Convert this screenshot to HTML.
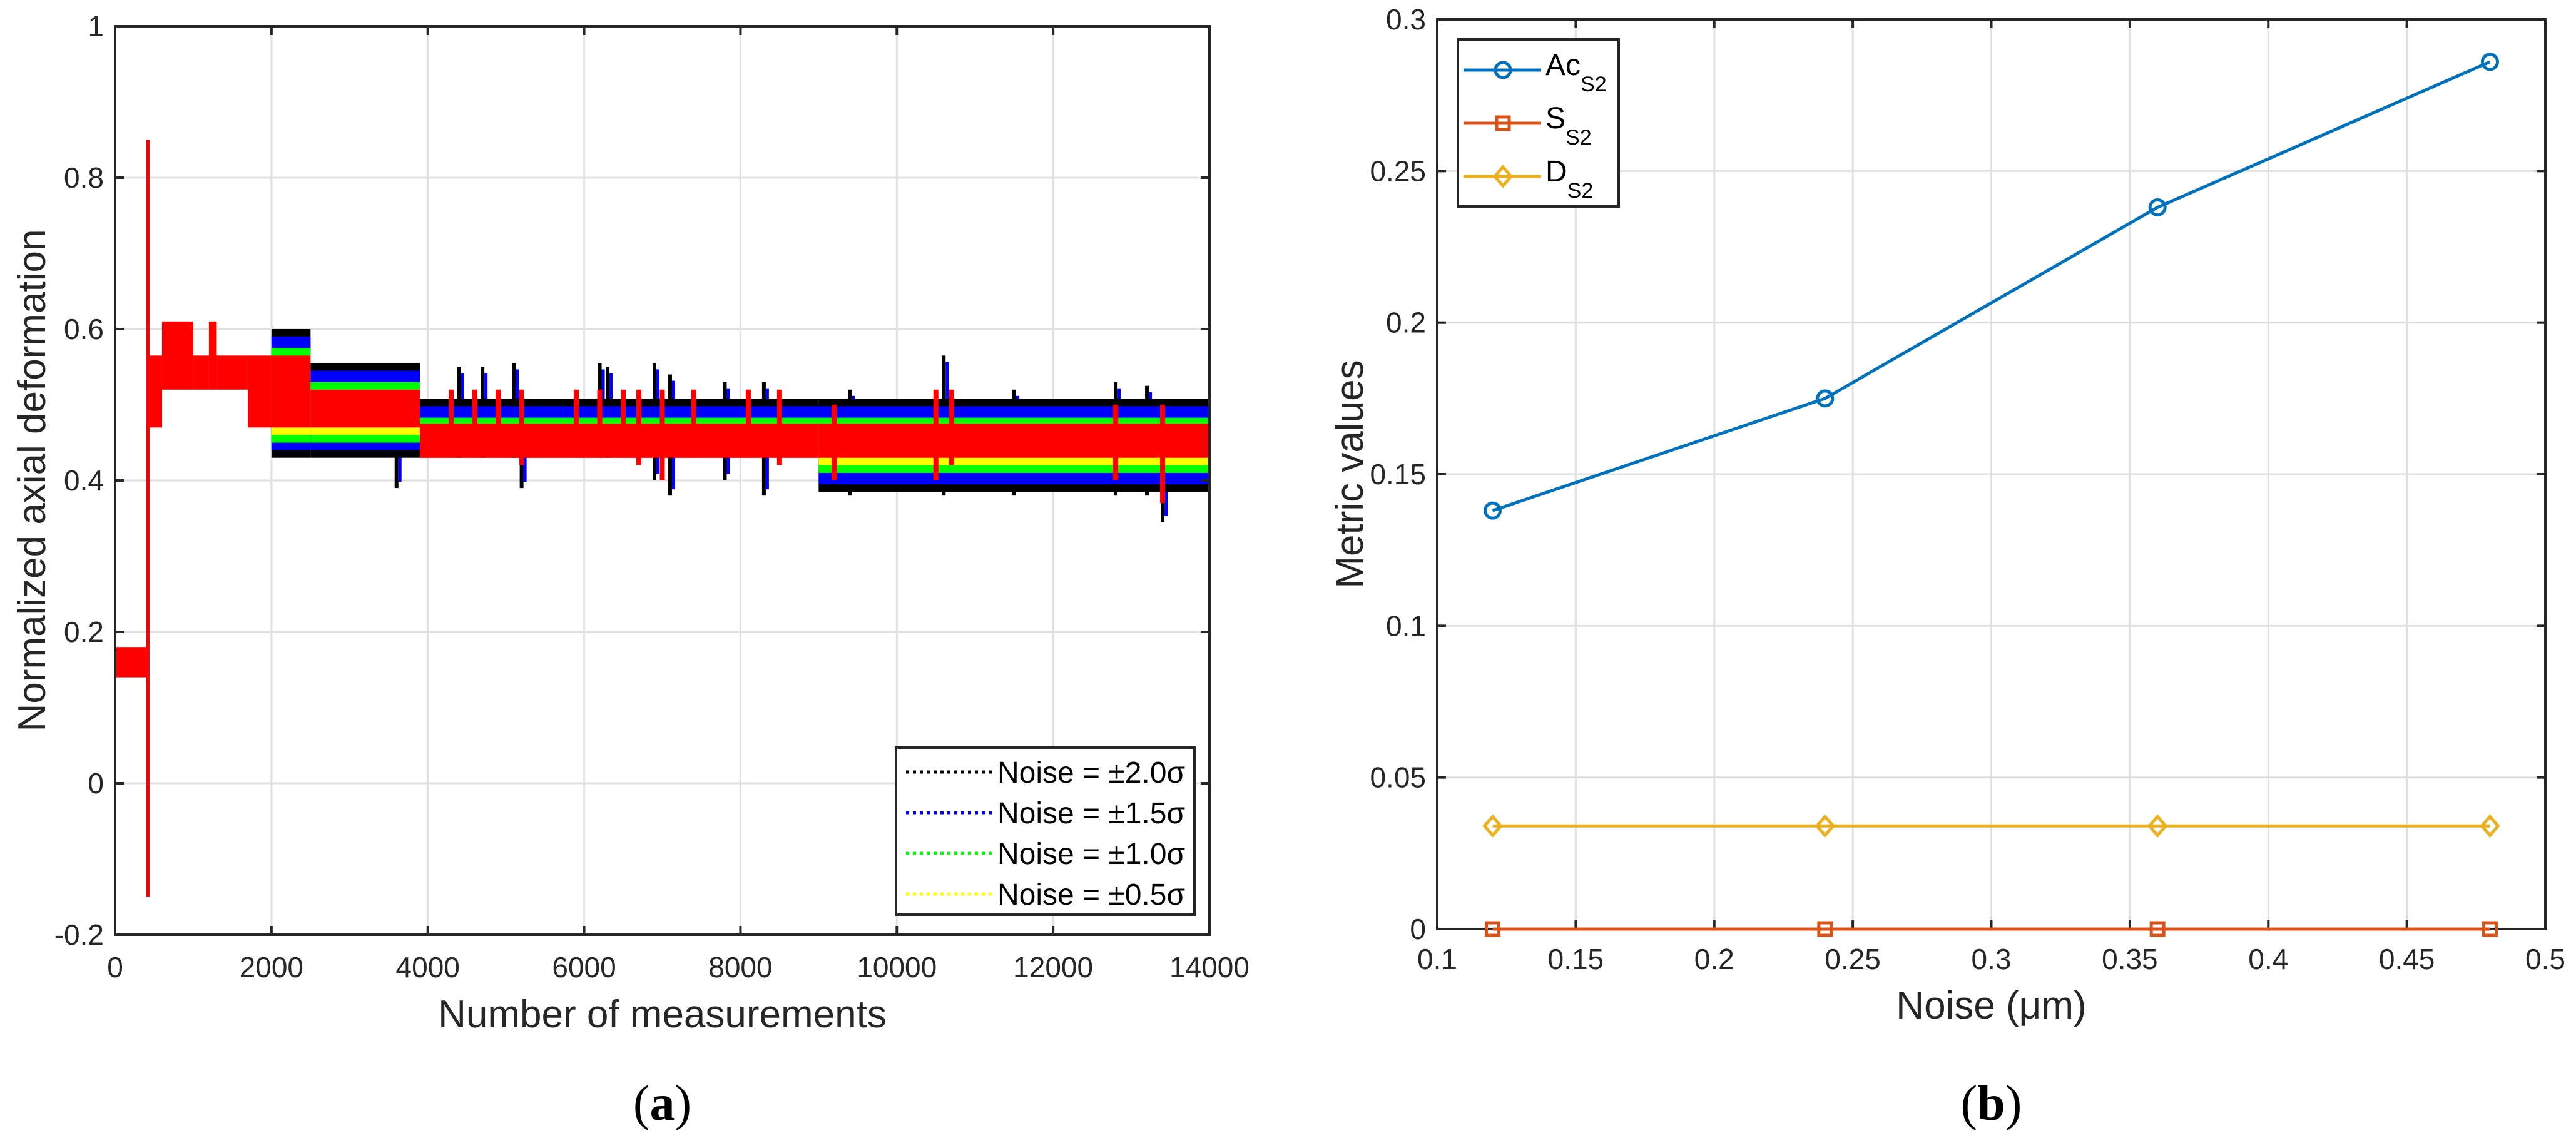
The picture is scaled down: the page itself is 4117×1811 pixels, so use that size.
<!DOCTYPE html>
<html><head><meta charset="utf-8"><style>
body{margin:0;background:#fff}
svg{display:block;font-family:"Liberation Sans",Arial,sans-serif}
</style></head><body>
<svg id="fig" width="4117" height="1811" viewBox="0 0 4117 1811" xmlns="http://www.w3.org/2000/svg">
<g id="pa"></g>
<g id="pb"></g>
</svg>
<script>
// ---------- Panel (a) data ----------
const aXTicks = [0,2000,4000,6000,8000,10000,12000,14000];
const aYTicks = [-0.2,0,0.2,0.4,0.6,0.8,1];
const aYTickLabels = ["-0.2","0","0.2","0.4","0.6","0.8","1"];
const bandStart = [2000,2500,3900,9000];
const bandEnd   = [2500,3900,9000,14000];
const blackLow  = [0.43,0.43,0.43,0.385];
const blackHigh = [0.60,0.555,0.508,0.508];
const blueLow   = [0.44,0.44,0.44,0.395];
const blueHigh  = [0.59,0.545,0.498,0.498];
const greenLow  = [0.45,0.45,0.45,0.41];
const greenHigh = [0.575,0.53,0.483,0.483];
const yellowLow = [0.46,0.46,0.455,0.42];
const yellowHigh= [0.565,0.52,0.475,0.475];
const redX0 = [0,400,420,600,1000,1200,1300,1700,2000,2500,3900,9000];
const redX1 = [400,425,600,1000,1200,1300,1700,2000,2500,3900,9000,14000];
const redLo = [0.14,-0.15,0.47,0.52,0.52,0.52,0.52,0.47,0.47,0.47,0.43,0.43];
const redHi = [0.18,0.85,0.565,0.61,0.565,0.61,0.565,0.565,0.565,0.52,0.475,0.475];
const redSpikeX = [4300,4600,4900,5200,5900,6200,6500,6700,7000,7400,8100,8500,9200,10500,10700,12800,13400];
const redSpikeHi = [0.52,0.52,0.52,0.52,0.52,0.52,0.52,0.52,0.52,0.52,0.52,0.52,0.50,0.52,0.52,0.50,0.50];
const redSpikeLo = [0.43,0.43,0.43,0.42,0.43,0.43,0.43,0.42,0.40,0.43,0.43,0.42,0.40,0.40,0.42,0.40,0.37];
const noiseSpikeX  = [3600,4400,4700,5100,5200,6200,6300,6900,7100,7800,8300,9400,10600,11500,12800,13200,13400];
const noiseSpikeHi = [0.505,0.55,0.55,0.555,0.505,0.555,0.55,0.555,0.54,0.53,0.53,0.52,0.565,0.52,0.53,0.525,0.505];
const noiseSpikeLo = [0.39,0.43,0.43,0.43,0.39,0.43,0.43,0.40,0.38,0.40,0.38,0.38,0.38,0.38,0.38,0.38,0.345];
const legendA = ["Noise = \u00b12.0\u03c3","Noise = \u00b11.5\u03c3","Noise = \u00b11.0\u03c3","Noise = \u00b10.5\u03c3"];
const legendAColors = ["#000000","#0000ff","#00ff00","#ffff00"];

// ---------- Panel (b) data ----------
const noiseLevels = [0.12,0.24,0.36,0.48];
const acS2 = [0.138,0.175,0.238,0.286];
const sS2  = [0,0,0,0];
const dS2  = [0.034,0.034,0.034,0.034];
const bXTicks = [0.1,0.15,0.2,0.25,0.3,0.35,0.4,0.45,0.5];
const bXTickLabels = ["0.1","0.15","0.2","0.25","0.3","0.35","0.4","0.45","0.5"];
const bYTicks = [0,0.05,0.1,0.15,0.2,0.25,0.3];
const bYTickLabels = ["0","0.05","0.1","0.15","0.2","0.25","0.3"];

const NS="http://www.w3.org/2000/svg";
function mk(parent,tag,attrs,text){const e=document.createElementNS(NS,tag);for(const k in attrs)e.setAttribute(k,attrs[k]);if(text!==undefined)e.textContent=text;parent.appendChild(e);return e;}

// ===== Panel A =====
const pa=document.getElementById('pa');
const AL=184,AR=1933,AT=42,AB=1494;
const ax=v=>AL+(v-0)/14000*(AR-AL);
const ay=v=>AB-(v+0.2)/1.2*(AB-AT);
for(const t of aXTicks){ if(t>0&&t<14000){const g=mk(pa,'line',{x1:ax(t),x2:ax(t),y1:AT,y2:AB,stroke:'#e0e0e0','stroke-width':3});

}}
for(const t of aYTicks){ if(t>-0.2&&t<1){const g=mk(pa,'line',{x1:AL,x2:AR,y1:ay(t),y2:ay(t),stroke:'#e0e0e0','stroke-width':3});

}}
function band(lo,hi,col,name){
  for(let i=0;i<bandStart.length;i++){
    const r=mk(pa,'rect',{x:ax(bandStart[i]),y:ay(hi[i]),width:ax(bandEnd[i])-ax(bandStart[i]),height:ay(lo[i])-ay(hi[i]),fill:col});
    
    
  }
}
for(let i=0;i<noiseSpikeX.length;i++){
  const l=mk(pa,'rect',{x:ax(noiseSpikeX[i])-3,y:ay(noiseSpikeHi[i]),width:6,height:ay(noiseSpikeLo[i])-ay(noiseSpikeHi[i]),fill:'#000'});
  
  
  const l2=mk(pa,'rect',{x:ax(noiseSpikeX[i])+3,y:ay(noiseSpikeHi[i])+10,width:5,height:Math.max(0,ay(noiseSpikeLo[i])-ay(noiseSpikeHi[i])-20),fill:'#0000ff'});
  
  
}
band(blackLow,blackHigh,'#000000','band-noise-2-0');
band(blueLow,blueHigh,'#0000ff','band-noise-1-5');
band(greenLow,greenHigh,'#00ff00','band-noise-1-0');
band(yellowLow,yellowHigh,'#ffff00','band-noise-0-5');
for(let i=0;i<redX0.length;i++){
  const r=mk(pa,'rect',{x:ax(redX0[i]),y:ay(redHi[i]),width:Math.max(5,ax(redX1[i])-ax(redX0[i])),height:ay(redLo[i])-ay(redHi[i]),fill:'#ff0000'});
  
  
}
for(let i=0;i<redSpikeX.length;i++){
  const r=mk(pa,'rect',{x:ax(redSpikeX[i])-4,y:ay(redSpikeHi[i]),width:8,height:ay(redSpikeLo[i])-ay(redSpikeHi[i]),fill:'#ff0000'});
  
  
}
const boxA=mk(pa,'rect',{x:AL,y:AT,width:AR-AL,height:AB-AT,fill:'none',stroke:'#262626','stroke-width':4});


for(const t of aXTicks){
  mk(pa,'line',{x1:ax(t),x2:ax(t),y1:AB,y2:AB-14,stroke:'#262626','stroke-width':4});
  mk(pa,'line',{x1:ax(t),x2:ax(t),y1:AT,y2:AT+14,stroke:'#262626','stroke-width':4});
  const tx=mk(pa,'text',{x:ax(t),y:1562,'text-anchor':'middle','font-size':46,fill:'#262626'},String(t));
  
  
}
aYTicks.forEach((t,i)=>{
  mk(pa,'line',{x1:AL,x2:AL+14,y1:ay(t),y2:ay(t),stroke:'#262626','stroke-width':4});
  mk(pa,'line',{x1:AR,x2:AR-14,y1:ay(t),y2:ay(t),stroke:'#262626','stroke-width':4});
  const tx=mk(pa,'text',{x:166,y:ay(t)+16,'text-anchor':'end','font-size':46,fill:'#262626'},aYTickLabels[i]);
  
  
});
let t1=mk(pa,'text',{x:(AL+AR)/2,y:1642,'text-anchor':'middle','font-size':62,fill:'#262626'},'Number of measurements');


let t2=mk(pa,'text',{x:0,y:0,'text-anchor':'middle','font-size':62,fill:'#262626',transform:`translate(72,${(AT+AB)/2}) rotate(-90)`},'Normalized axial deformation');


let t3=mk(pa,'text',{x:(AL+AR)/2,y:1790,'text-anchor':'middle','font-size':80,fill:'#000','font-family':'Liberation Serif, serif'});
t3.innerHTML='(<tspan font-weight="bold">a</tspan>)';


const lg=mk(pa,'g',{});


mk(lg,'rect',{x:1432,y:1195,width:477,height:267,fill:'#fff',stroke:'#262626','stroke-width':4});
legendA.forEach((s,i)=>{
  const y=1234+i*65;
  const e=mk(lg,'g',{});
  
  
  mk(e,'line',{x1:1448,x2:1585,y1:y,y2:y,stroke:legendAColors[i],'stroke-width':5,'stroke-dasharray':'5 6'});
  mk(e,'text',{x:1594,y:y+17,'font-size':48,fill:'#000'},s);
});

// ===== Panel B =====
const pb=document.getElementById('pb');
const BL=2297,BR=4068,BT=31,BB=1485;
const bx=v=>BL+(v-0.1)/0.4*(BR-BL);
const by=v=>BB-v/0.3*(BB-BT);
for(const t of bXTicks){ if(t>0.1&&t<0.5){const g=mk(pb,'line',{x1:bx(t),x2:bx(t),y1:BT,y2:BB,stroke:'#e0e0e0','stroke-width':3});

}}
for(const t of bYTicks){ if(t>0&&t<0.3){const g=mk(pb,'line',{x1:BL,x2:BR,y1:by(t),y2:by(t),stroke:'#e0e0e0','stroke-width':3});

}}
const boxB=mk(pb,'rect',{x:BL,y:BT,width:BR-BL,height:BB-BT,fill:'none',stroke:'#262626','stroke-width':4});


bXTicks.forEach((t,i)=>{
  mk(pb,'line',{x1:bx(t),x2:bx(t),y1:BB,y2:BB-14,stroke:'#262626','stroke-width':4});
  mk(pb,'line',{x1:bx(t),x2:bx(t),y1:BT,y2:BT+14,stroke:'#262626','stroke-width':4});
  const tx=mk(pb,'text',{x:bx(t),y:1549,'text-anchor':'middle','font-size':46,fill:'#262626'},bXTickLabels[i]);
  
  
});
bYTicks.forEach((t,i)=>{
  mk(pb,'line',{x1:BL,x2:BL+14,y1:by(t),y2:by(t),stroke:'#262626','stroke-width':4});
  mk(pb,'line',{x1:BR,x2:BR-14,y1:by(t),y2:by(t),stroke:'#262626','stroke-width':4});
  const tx=mk(pb,'text',{x:2279,y:by(t)+16,'text-anchor':'end','font-size':46,fill:'#262626'},bYTickLabels[i]);
  
  
});
function series(vals,col,marker,name){
  const g=mk(pb,'g',{});
  
  
  mk(g,'polyline',{points:noiseLevels.map((x,i)=>bx(x)+','+by(vals[i])).join(' '),fill:'none',stroke:col,'stroke-width':5});
  noiseLevels.forEach((x,i)=>drawMarker(g,marker,bx(x),by(vals[i]),col));
}
function drawMarker(g,m,x,y,col){
  if(m==='o')mk(g,'circle',{cx:x,cy:y,r:12,fill:'none',stroke:col,'stroke-width':5});
  else if(m==='s')mk(g,'rect',{x:x-10,y:y-10,width:20,height:20,fill:'none',stroke:col,'stroke-width':5});
  else mk(g,'polygon',{points:`${x},${y-15} ${x+13},${y} ${x},${y+15} ${x-13},${y}`,fill:'none',stroke:col,'stroke-width':5});
}
series(dS2,'#EDB120','d','series-d-s2');
series(sS2,'#D95319','s','series-s-s2');
series(acS2,'#0072BD','o','series-ac-s2');
let b1=mk(pb,'text',{x:(BL+BR)/2,y:1628,'text-anchor':'middle','font-size':62,fill:'#262626'},'Noise (\u03bcm)');


let b2=mk(pb,'text',{x:0,y:0,'text-anchor':'middle','font-size':62,fill:'#262626',transform:`translate(2178,${(BT+BB)/2}) rotate(-90)`},'Metric values');


let b3=mk(pb,'text',{x:(BL+BR)/2,y:1790,'text-anchor':'middle','font-size':80,fill:'#000','font-family':'Liberation Serif, serif'});
b3.innerHTML='(<tspan font-weight="bold">b</tspan>)';


const lb=mk(pb,'g',{});


mk(lb,'rect',{x:2330,y:63,width:257,height:267,fill:'#fff',stroke:'#262626','stroke-width':4});
const lbNames=['Ac','S','D'],lbCols=['#0072BD','#D95319','#EDB120'],lbM=['o','s','d'];
lbNames.forEach((n,i)=>{
  const y=112+i*85;
  const e=mk(lb,'g',{});
  
  
  mk(e,'line',{x1:2339,x2:2463,y1:y,y2:y,stroke:lbCols[i],'stroke-width':5});
  drawMarker(e,lbM[i],2402,y,lbCols[i]);
  const t=mk(e,'text',{x:2470,y:y+8,'font-size':48,fill:'#000'});
  t.innerHTML=`${n}<tspan font-size="34" dy="26">S2</tspan>`;
});
</script>
</body></html>
